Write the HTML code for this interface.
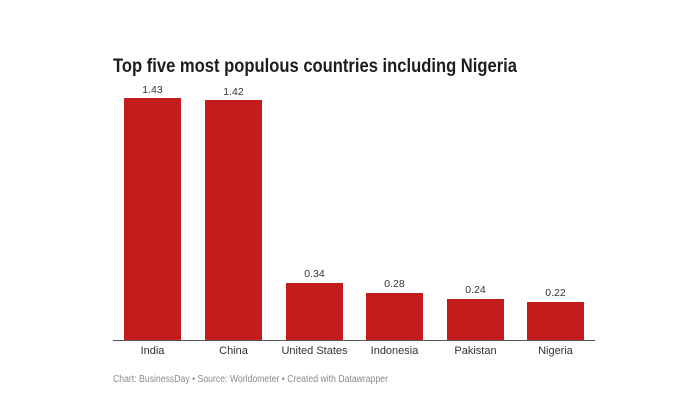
<!DOCTYPE html>
<html>
<head>
<meta charset="utf-8">
<style>
html,body{margin:0;padding:0;background:#fff;}
svg{display:block;}
text{font-family:"Liberation Sans",Arial,sans-serif;}
</style>
</head>
<body>
<svg width="700" height="400" viewBox="0 0 700 400" xmlns="http://www.w3.org/2000/svg">
<rect width="700" height="400" fill="#fff"/>
<text x="113" y="72" font-size="19.5" font-weight="bold" fill="#1d1d1d" textLength="404" lengthAdjust="spacingAndGlyphs">Top five most populous countries including Nigeria</text>
<g fill="#c41c1d">
<rect x="124" y="98" width="57" height="242"/>
<rect x="205" y="100" width="57" height="240"/>
<rect x="286" y="283" width="57" height="57"/>
<rect x="366" y="293" width="57" height="47"/>
<rect x="447" y="299" width="57" height="41"/>
<rect x="527" y="302" width="57" height="38"/>
</g>
<line x1="113" y1="340.5" x2="595" y2="340.5" stroke="#555" stroke-width="1"/>
<g font-size="10.5" fill="#333" text-anchor="middle">
<text x="152.5" y="93">1.43</text>
<text x="233.5" y="95">1.42</text>
<text x="314.5" y="277">0.34</text>
<text x="394.5" y="287">0.28</text>
<text x="475.5" y="293">0.24</text>
<text x="555.5" y="296">0.22</text>
</g>
<g font-size="11" fill="#333" text-anchor="middle">
<text x="152.5" y="354">India</text>
<text x="233.5" y="354">China</text>
<text x="314.5" y="354">United States</text>
<text x="394.5" y="354">Indonesia</text>
<text x="475.5" y="354">Pakistan</text>
<text x="555.5" y="354">Nigeria</text>
</g>
<text x="113" y="382" font-size="10" fill="#8a8a8a" textLength="275" lengthAdjust="spacingAndGlyphs">Chart: BusinessDay • Source: Worldometer • Created with Datawrapper</text>
</svg>
</body>
</html>
